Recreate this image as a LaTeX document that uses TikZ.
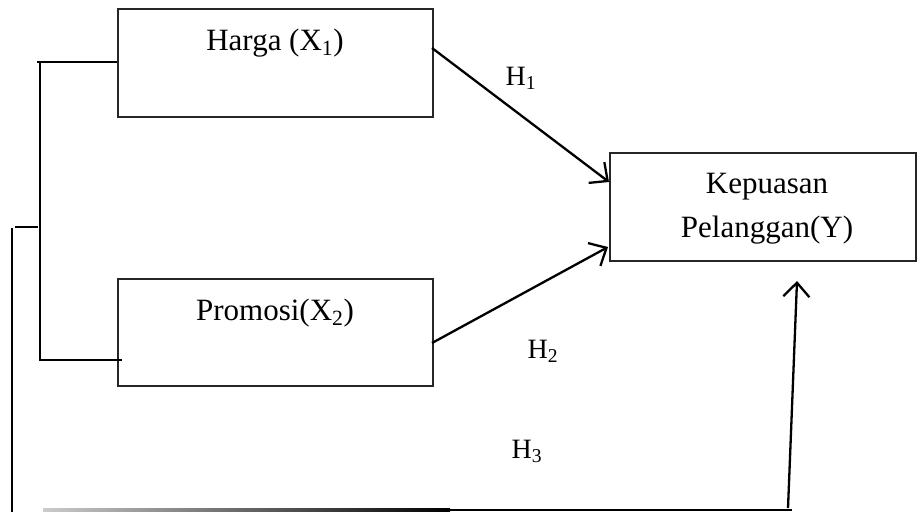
\documentclass[tikz,border=0pt]{standalone}
\usepackage{fontspec}
\setmainfont{Liberation Serif}
\usetikzlibrary{arrows.meta}
\newcommand{\mysub}[1]{\textsubscript{#1}}
\begin{document}
\begin{tikzpicture}[x=1pt,y=-1pt,
  boxst/.style={draw=black!85,line width=1.2pt,inner sep=0pt},
  lbl/.style={font=\fontsize{31}{44}\selectfont,inner sep=0pt,anchor=base},
  hlbl/.style={font=\fontsize{28}{34}\selectfont,inner sep=0pt,anchor=base},
  conn/.style={line width=2.3pt},
  arr/.style={line width=2.3pt,-{Straight Barb[length=14pt,width=26pt,line width=2.3pt]}}]
\useasboundingbox (0,0) rectangle (917,512);
% boxes
\node[boxst,minimum width=315pt,minimum height=108pt] (harga) at (275.5,63) {};
\node[boxst,minimum width=315pt,minimum height=107pt] (promosi) at (275.5,332.5) {};
\node[boxst,minimum width=306pt,minimum height=108pt] (kep) at (763,207) {};
% texts
\node[lbl] (tharga) at (275,50) {Harga (X\mysub{1})};
\node[lbl] (tpromosi) at (275,320) {Promosi(X\mysub{2})};
\node[lbl] (tkep1) at (767,193) {Kepuasan};
\node[lbl] (tkep2) at (767,237) {Pelanggan(Y)};
\node[hlbl] (h1) at (521,85) {H\mysub{1}};
\node[hlbl] (h2) at (543,358) {H\mysub{2}};
\node[hlbl] (h3) at (527,458) {H\mysub{3}};
% coordinates
\coordinate (a1s) at (432,48);
\coordinate (a1e) at (609,182);
\coordinate (a2s) at (432,343);
\coordinate (a2e) at (608,247);
\coordinate (bl) at (37,62);
\coordinate (bv1) at (40,62);
\coordinate (bv2) at (40,360);
\coordinate (bp) at (122,360);
\coordinate (m1) at (15,227);
\coordinate (m2) at (38,227);
\coordinate (lv1) at (12,228);
\coordinate (lv2) at (12,512);
\coordinate (bmid) at (450,510);
\coordinate (b2) at (792,510);
\coordinate (a3s) at (788,508);
\coordinate (a3e) at (797,281);
% connectors
\draw[arr] (a1s) -- (a1e);
\draw[arr] (a2s) -- (a2e);
\draw[conn] (bl) -- (harga.west |- bl);
\draw[conn] (bv1) -- (bv2) -- (bp);
\draw[conn] (m1) -- (m2);
\draw[conn] (lv1) -- (lv2);
\shade[left color=black!20,right color=black] (43,508.8) rectangle (450,511.2);
\draw[conn] (bmid) -- (b2);
\draw[arr] (a3s) -- (a3e);
\end{tikzpicture}
\end{document}
